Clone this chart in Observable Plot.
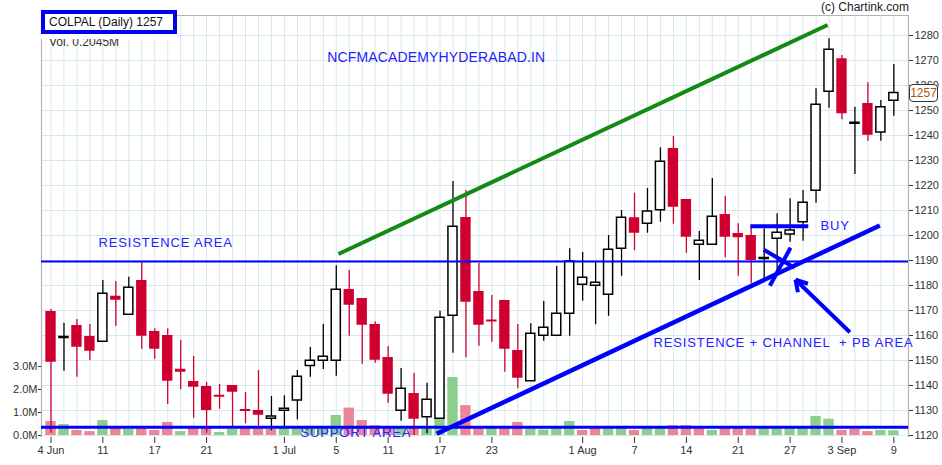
<!DOCTYPE html>
<html>
<head>
<meta charset="utf-8">
<script src="https://cdn.jsdelivr.net/npm/d3@7"></script>
<script src="https://cdn.jsdelivr.net/npm/@observablehq/plot@0.6"></script>
<style>
  html, body { margin: 0; padding: 0; background: #fff; }
  #wrap { position: relative; width: 942px; height: 465px; font-family: "Liberation Sans", Arial, sans-serif; overflow: hidden; }
  #title { position: absolute; left: 41px; top: 10px; width: 124px; height: 16px; border: 4px solid #0000ee; background: #fff; font-size: 12px; color: #111; line-height: 16px; padding-left: 4px; white-space: nowrap; box-shadow: 0 5px 0 #fff; }
  #vol { position: absolute; left: 49px; top: 35px; font-size: 12px; line-height: 14px; color: #333; }
  #credit { position: absolute; right: 33px; top: 0px; font-size: 12px; color: #222; }
  #tag { position: absolute; width: 27px; height: 16px; border: 1px solid #333; border-radius: 4px; background: #fff; font-size: 12px; color: #b85400; line-height: 16px; text-align: center; }
</style>
</head>
<body>
<div id="wrap"></div>
<script>
// ---- data (COLPAL daily, 4 Jun – 9 Sep 2019) ----
const dates = ["2019-06-04","2019-06-06","2019-06-07","2019-06-10","2019-06-11","2019-06-12","2019-06-13","2019-06-14","2019-06-17","2019-06-18","2019-06-19","2019-06-20","2019-06-21","2019-06-24","2019-06-25","2019-06-26","2019-06-27","2019-06-28",
  "2019-07-01","2019-07-02","2019-07-03","2019-07-04","2019-07-05","2019-07-08","2019-07-09","2019-07-10","2019-07-11","2019-07-12","2019-07-15","2019-07-16","2019-07-17","2019-07-18","2019-07-19","2019-07-22","2019-07-23","2019-07-24","2019-07-25","2019-07-26","2019-07-29","2019-07-30","2019-07-31",
  "2019-08-01","2019-08-02","2019-08-05","2019-08-06","2019-08-07","2019-08-08","2019-08-09","2019-08-13","2019-08-14","2019-08-16","2019-08-19","2019-08-20","2019-08-21","2019-08-22","2019-08-23","2019-08-26","2019-08-27","2019-08-28","2019-08-29","2019-08-30",
  "2019-09-03","2019-09-04","2019-09-05","2019-09-06","2019-09-09"];
const open  = [1169.6,1159.0,1164.0,1159.6,1157.5,1175.7,1168.3,1182.0,1161.6,1160.0,1146.5,1141.6,1139.6,1136.1,1140.0,1130.4,1130.0,1126.7,
  1129.9,1134.0,1147.8,1149.9,1149.9,1178.4,1174.8,1164.4,1151.2,1129.9,1136.8,1127.3,1126.7,1167.9,1207.2,1177.6,1166.2,1174.0,1154.0,1141.7,1159.9,1159.9,1168.7,
  1180.3,1179.9,1176.3,1194.7,1207.1,1204.7,1210.1,1234.8,1214.4,1196.3,1196.3,1208.4,1200.8,1200.0,1190.6,1198.7,1200.4,1205.3,1217.9,1257.5,
  1270.7,1244.7,1252.8,1241.2,1253.9];
const high  = [1170.4,1164.9,1166.4,1164.4,1182.0,1181.6,1183.3,1189.3,1162.7,1162.7,1158.0,1151.6,1141.2,1140.4,1140.0,1137.2,1146.0,1135.6,
  1135.9,1146.0,1155.2,1164.4,1187.9,1186.0,1174.8,1165.5,1155.6,1146.8,1144.8,1140.9,1169.7,1221.6,1218.0,1188.8,1176.0,1174.0,1164.4,1164.7,1173.6,1187.6,1194.7,
  1193.2,1189.3,1200.0,1210.0,1216.9,1218.8,1235.1,1239.6,1214.4,1201.6,1222.8,1215.6,1204.7,1203.3,1202.7,1208.7,1214.7,1218.0,1258.7,1278.7,
  1272.0,1251.3,1261.1,1254.0,1268.4];
const low   = [1121.0,1145.7,1143.3,1150.0,1157.5,1163.6,1168.3,1154.5,1150.5,1132.4,1138.3,1126.9,1120.9,1130.5,1123.3,1124.7,1123.7,1121.9,
  1122.7,1126.3,1143.3,1146.4,1143.7,1159.7,1148.5,1148.9,1132.9,1125.7,1120.0,1120.7,1126.7,1152.9,1151.1,1155.7,1157.3,1145.3,1138.7,1141.7,1157.7,1159.9,1159.7,
  1173.7,1164.3,1167.7,1183.7,1194.0,1200.9,1205.3,1204.5,1192.9,1182.0,1196.3,1191.1,1183.7,1180.7,1181.1,1185.0,1197.3,1197.7,1212.9,1250.9,
  1246.3,1224.4,1237.7,1237.7,1247.7];
const close = [1149.3,1159.4,1155.3,1153.7,1176.7,1174.1,1179.1,1159.7,1154.5,1141.7,1145.3,1139.3,1130.0,1135.3,1137.3,1129.6,1128.1,1127.6,
  1130.7,1143.5,1149.9,1151.5,1178.3,1172.1,1164.1,1150.1,1136.5,1138.7,1126.5,1134.3,1167.1,1203.5,1173.3,1164.1,1165.4,1154.5,1142.9,1160.7,1163.1,1168.7,1189.6,
  1183.1,1181.1,1194.3,1207.1,1200.9,1209.6,1229.5,1211.3,1199.3,1197.9,1207.5,1199.3,1199.1,1190.0,1191.0,1201.1,1202.0,1213.1,1252.3,1274.3,
  1248.7,1245.1,1240.1,1251.3,1257.0];
// volume in millions
const volume = [0.61,0.48,0.22,0.17,0.65,0.33,0.26,0.33,0.22,0.57,0.17,0.33,0.33,0.13,0.26,0.32,0.32,0.26,
  0.32,0.30,0.28,0.30,0.87,1.19,0.65,0.43,0.30,0.30,0.33,0.30,0.74,2.52,1.30,0.33,0.33,0.33,0.57,0.28,0.24,0.33,0.61,
  0.22,0.32,0.32,0.32,0.22,0.32,0.32,0.43,0.43,0.32,0.22,0.33,0.33,0.26,0.32,0.32,0.32,0.32,0.83,0.71,
  0.22,0.26,0.17,0.22,0.2045];

const tickIdx    = [0,4,8,12,18,22,26,30,34,41,45,49,53,57,61,65];
const tickLabels = ["4 Jun","11","17","21","1 Jul","5","11","17","23","1 Aug","7","14","21","27","3 Sep","9"];
const priceTicks = [1120,1130,1140,1150,1160,1170,1180,1190,1200,1210,1220,1230,1240,1250,1260,1270,1280];
const volTicks   = [0,1,2,3];

// drawn annotations, in (bar index, price) coordinates
const resistanceLevel = [1189.6];
const supportLevel    = [1123.3];
const greenTrend   = [{x1: 22.17, y1: 1192.6, x2: 59.89, y2: 1284.2}];
const channelTrend = [{x1: 29.75, y1: 1120.7, x2: 63.92, y2: 1204.0}];
const buyLine      = [{x1: 53.93, y1: 1203.7, x2: 58.4, y2: 1203.7}];
const crossMark    = [{x1: 54.97, y1: 1194.3, x2: 57.34, y2: 1187.1}, {x1: 57.03, y1: 1195.1, x2: 55.44, y2: 1179.9}];
const arrowMark    = [{x1: 61.61, y1: 1161.3, x2: 57.42, y2: 1182.3}, {x1: 57.42, y1: 1182.3, x2: 57.6, y2: 1177.3}, {x1: 57.42, y1: 1182.3, x2: 58.37, y2: 1180.7}];
const notes = [
  {text: "NCFMACADEMYHYDERABAD.IN", x: 21.3, y: 1271.2, size: 14},
  {text: "RESISTENCE AREA", x: 3.67, y: 1197.2, size: 13},
  {text: "SUPPORT AREA", x: 19.24, y: 1120.9, size: 13},
  {text: "BUY", x: 59.35, y: 1204.0, size: 13},
  {text: "RESISTENCE + CHANNEL  + PB AREA", x: 46.47, y: 1157.2, size: 13}
];

// ---- build ----
const candles = dates.map((d, i) => ({
  i, date: d, open: open[i], high: high[i], low: low[i], close: close[i], vol: volume[i],
  up: close[i] >= open[i], volUp: i > 0 && close[i] > close[i - 1]
}));
const xDomain = [-0.733, 66.13];
const yDomain = [1119.2, 1288];
const volBase = 1120, volUnit = 9.2;           // 1M of volume drawn as 9.2 price units
const volToY = v => volBase + v * volUnit;
const labelOf = new Map(tickIdx.map((t, k) => [t, tickLabels[k]]));

const RED = "#cf0030", GREEN_V = "#8ccf8c", PINK_V = "#ec8596", GRID = "#d7e7ed", BLUE = "#0000ff", TXTBLUE = "#2222ff";
const half = 0.4;

const plot = Plot.plot({
  width: 942, height: 465,
  marginLeft: 41, marginRight: 34, marginTop: 15, marginBottom: 28,
  x: {domain: xDomain, axis: null},
  y: {domain: yDomain, axis: null},
  style: {fontFamily: "Liberation Sans, Arial, sans-serif", fontSize: "11px", color: "#333", background: "transparent", overflow: "visible", whiteSpace: "pre"},
  marks: [
    Plot.ruleX(candles.map(d => d.i), {stroke: GRID, strokeWidth: 1}),
    Plot.ruleY(priceTicks, {stroke: GRID, strokeWidth: 1}),
    Plot.ruleX(xDomain, {stroke: "#b4b4b4", strokeWidth: 1.2}),
    Plot.ruleY([yDomain[1]], {stroke: "#b4b4b4", strokeWidth: 1.2}),
    // volume
    Plot.rect(candles, {x1: d => d.i - half, x2: d => d.i + half, y1: () => volToY(0), y2: d => volToY(d.vol), fill: d => d.volUp ? GREEN_V : PINK_V}),
    // wicks
    Plot.ruleX(candles, {x: "i", y1: "low", y2: "high", stroke: d => d.up ? "#000" : RED, strokeWidth: 1.3}),
    // bodies
    Plot.rect(candles.filter(d => !d.up), {x1: d => d.i - half, x2: d => d.i + half, y1: "open", y2: "close", fill: RED}),
    Plot.rect(candles.filter(d => d.up), {x1: d => d.i - half + 0.05, x2: d => d.i + half - 0.05, y1: "open", y2: "close", fill: "#fff", stroke: "#000", strokeWidth: 1.5}),
    // levels
    Plot.ruleY(resistanceLevel, {stroke: BLUE, strokeWidth: 2.2}),
    Plot.ruleY(supportLevel, {stroke: BLUE, strokeWidth: 3}),
    // drawings
    Plot.link(greenTrend, {x1: "x1", y1: "y1", x2: "x2", y2: "y2", stroke: "#138a13", strokeWidth: 4}),
    Plot.link(channelTrend, {x1: "x1", y1: "y1", x2: "x2", y2: "y2", stroke: BLUE, strokeWidth: 4.5}),
    Plot.link(buyLine, {x1: "x1", y1: "y1", x2: "x2", y2: "y2", stroke: BLUE, strokeWidth: 4}),
    Plot.link(crossMark, {x1: "x1", y1: "y1", x2: "x2", y2: "y2", stroke: BLUE, strokeWidth: 4}),
    Plot.link(arrowMark, {x1: "x1", y1: "y1", x2: "x2", y2: "y2", stroke: BLUE, strokeWidth: 4}),
    Plot.text(notes, {x: "x", y: "y", text: "text", fontSize: "size", textAnchor: "start", fill: TXTBLUE}),
    // axes
    Plot.axisY({anchor: "right", ticks: priceTicks, tickFormat: d => String(d), tickSize: 4, tickPadding: 2, color: "#333", fontSize: 11}),
    Plot.axisY({anchor: "left", ticks: volTicks.map(volToY), tickFormat: d => ((d - volBase) / volUnit).toFixed(1) + "M", tickSize: 3, tickPadding: 1, color: "#333", fontSize: 11}),
    Plot.axisX({anchor: "bottom", ticks: tickIdx, tickFormat: d => labelOf.get(d), tickSize: 6, tickPadding: 3, color: "#333", fontSize: 11})
  ]
});

// letter spacing for hand-written annotations
d3.select(plot).selectAll("g[aria-label='text'] text").attr("letter-spacing", function() {
  return this.textContent.startsWith("NCFM") ? "0.15px" : "0.85px";
});

const wrap = document.getElementById("wrap");
wrap.appendChild(plot);
plot.style.position = "absolute"; plot.style.left = "0px"; plot.style.top = "0px";

const last = candles[candles.length - 1];
const vol = document.createElement("div"); vol.id = "vol"; vol.textContent = "Vol. " + last.vol + "M"; wrap.appendChild(vol);
const title = document.createElement("div"); title.id = "title"; title.textContent = "COLPAL (Daily) " + Math.round(last.close); wrap.appendChild(title);
const credit = document.createElement("div"); credit.id = "credit"; credit.textContent = "(c) Chartink.com"; wrap.appendChild(credit);
const tag = document.createElement("div"); tag.id = "tag"; tag.textContent = Math.round(last.close);
tag.style.left = (plot.scale("x").apply(xDomain[1]) + 1) + "px";
tag.style.top = (plot.scale("y").apply(last.close) - 8.5) + "px";
wrap.appendChild(tag);
</script>
</body>
</html>
